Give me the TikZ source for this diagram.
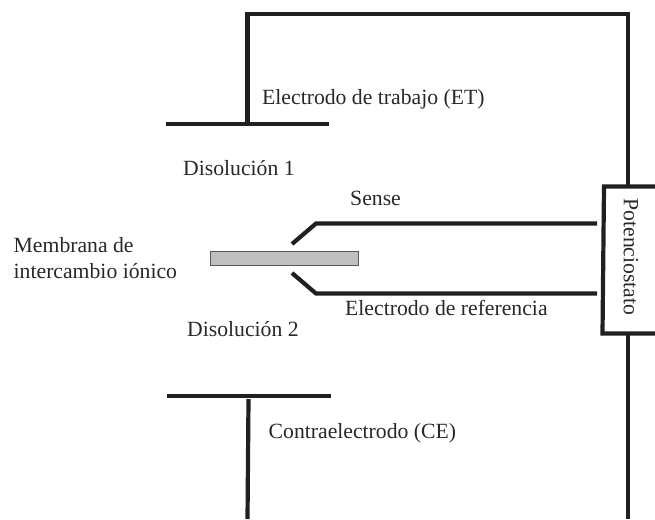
\documentclass[tikz,border=0pt]{standalone}
\usepackage{fontspec}
\usepackage{xcolor}
\setmainfont{Liberation Serif}
\definecolor{ink}{HTML}{231F20}
\definecolor{txt}{HTML}{2A2728}
\begin{document}
\begin{tikzpicture}[x=1pt,y=-1pt,
  wire/.style={line width=4.2pt,line cap=butt,line join=miter,ink},
  lab/.style={font=\fontsize{21.7}{26}\selectfont,inner sep=0pt,anchor=base west,text=txt}]
\useasboundingbox (0,0) rectangle (655,519);
\coordinate (top1) at (247.5,14);
\coordinate (top2) at (628,14);
\coordinate (et) at (247.5,124);
\coordinate (etl) at (166,124);
\coordinate (etr) at (329,124);
\coordinate (cel) at (167,396);
\coordinate (cer) at (331,396);
\coordinate (ce) at (248.5,399);
\coordinate (ceb) at (247.5,519);
\coordinate (pb) at (628,519);
\coordinate (pt) at (628,186.5);
\coordinate (pm) at (628,333.5);
\coordinate (ptl) at (604,186.5);
\coordinate (ptr) at (655,186.5);
\coordinate (pbl) at (602.5,333.5);
\coordinate (pbr) at (655,333.5);
\coordinate (s0) at (292,244);
\coordinate (s1) at (316,223.5);
\coordinate (s2) at (597,223.5);
\coordinate (r0) at (292,273);
\coordinate (r1) at (316,293.5);
\coordinate (r2) at (597,293.5);
\node[draw=black!65,fill=black!25,line width=1pt,minimum width=148pt,minimum height=14.5pt,inner sep=0pt] (mem) at (284.2,258.6) {};
\draw[wire] (et) -- (top1) -- (top2) -- (pt);
\draw[wire] (etl) -- (etr);
\draw[wire] (cel) -- (cer);
\draw[wire] (ce) -- (ceb);
\draw[wire] (pm) -- (pb);
\draw[wire] (ptr) -- (ptl) -- (pbl) -- (pbr);
\draw[wire] (s0) -- (s1) -- (s2);
\draw[wire] (r0) -- (r1) -- (r2);
\node[rotate=-90,font=\fontsize{21.7}{26}\selectfont,inner sep=0pt,text=txt] (plab) at (631,257) {Potenciostato};
\node[lab] (t1) at (262,104) {Electrodo de trabajo (ET)};
\node[lab] (t2) at (183,175.5) {Disolución 1};
\node[lab] (t3) at (350,205) {Sense};
\node[lab] (t4) at (13.5,252) {Membrana de};
\node[lab] (t5) at (13.5,278.3) {intercambio iónico};
\node[lab] (t6) at (345,315) {Electrodo de referencia};
\node[lab] (t7) at (187,336) {Disolución 2};
\node[lab] (t8) at (268.5,438) {Contraelectrodo (CE)};
\end{tikzpicture}
\end{document}
